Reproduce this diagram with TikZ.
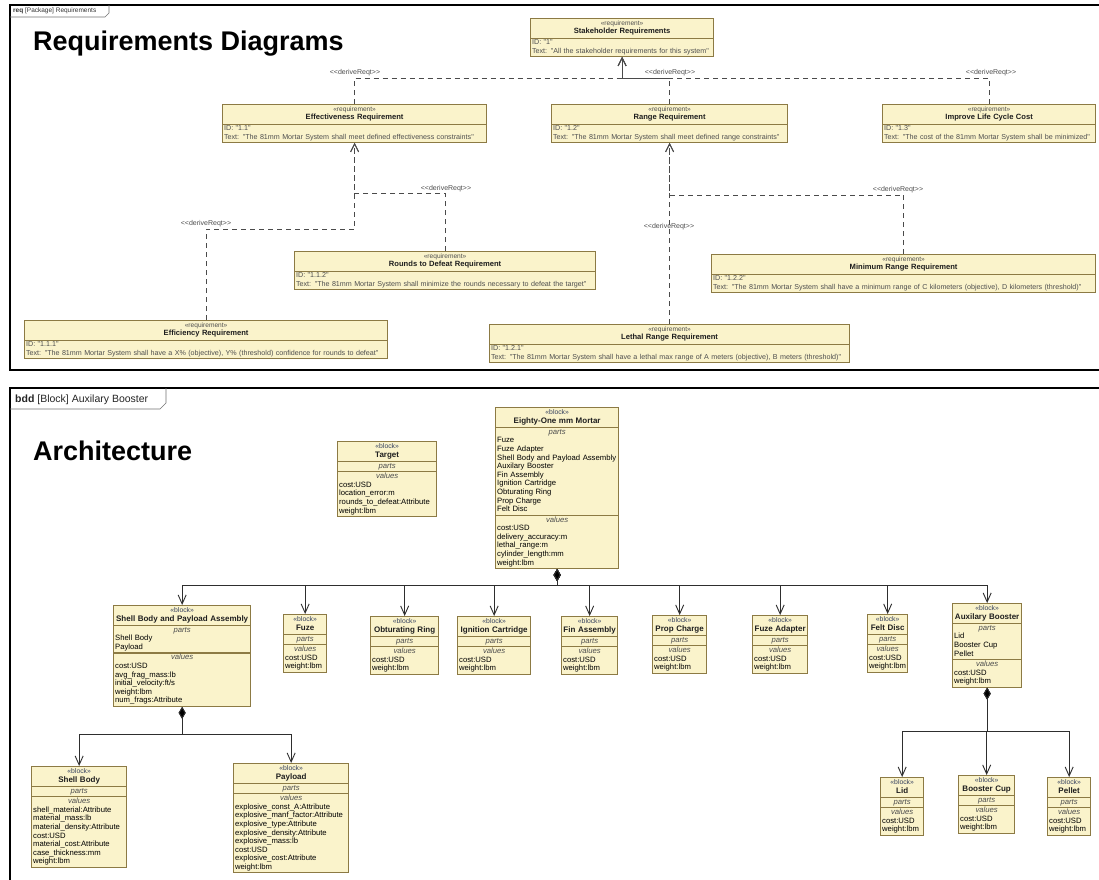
\documentclass[tikz,border=0pt]{standalone}
\usepackage{fontspec}
\setmainfont{Liberation Sans}[Ligatures=TeXOff]
\usetikzlibrary{shapes.multipart,arrows.meta}

\definecolor{boxfill}{HTML}{FAF3CB}
\definecolor{boxline}{HTML}{8C7A44}
\definecolor{inktext}{HTML}{1E1E1E}
\definecolor{softtext}{HTML}{4E4E4E}
\definecolor{stereoink}{HTML}{34405E}
\definecolor{wire}{HTML}{2E2E2E}
\definecolor{dashwire}{HTML}{4A4A4A}

% one line of a compartment
\newcommand\rl[1]{\strut\mbox{#1}\par}
% italic compartment caption
\newcommand\compart[1]{{\centering\itshape\color{softtext}\strut #1\par}}
% block and requirement headers
\newcommand\blockhead[1]{\centering{\fontsize{6.8}{8.6}\selectfont\color{stereoink}\strut«block»\par}{\fontsize{8}{8.6}\selectfont\bfseries\rule[-3.6pt]{0pt}{6pt}\mbox{#1}\par}}
\newcommand\reqhead[1]{\centering{\fontsize{6.6}{8.6}\selectfont\color{softtext}\strut«requirement»\par}{\fontsize{7.6}{8.6}\selectfont\bfseries\color{inktext}\rule[-3.6pt]{0pt}{6pt}\mbox{#1}\par}}

\tikzset{
  blockbox/.style={rectangle split, rectangle split parts=3, draw=boxline, fill=boxfill,
    line width=1.1pt, inner xsep=1.6pt, inner ysep=0.3pt, anchor=north west, align=left,
    text=inktext, font=\fontsize{7.7}{8.6}\selectfont},
  reqbox/.style={rectangle split, rectangle split parts=2, draw=boxline, fill=boxfill,
    line width=1pt, inner xsep=1.6pt, inner ysep=0.3pt, anchor=north west, align=left,
    text=softtext, font=\fontsize{7.15}{8.2}\selectfont},
  derive/.style={draw=dashwire, line width=0.9pt, dash pattern=on 5pt off 4pt,
    -{Straight Barb[length=8pt,width=8pt]}},
  comp/.style={draw=wire, line width=0.9pt,
    {Straight Barb[length=9pt,width=8pt]}-{Diamond[length=12pt,width=7pt,fill=black]}},
  dlabel/.style={font=\fontsize{7}{8}\selectfont, text=softtext, inner sep=0pt},
  frame/.style={draw=black, line width=1.8pt},
  tabline/.style={draw=black!55, line width=0.6pt},
  bigtitle/.style={anchor=base west, font=\fontsize{27}{30}\selectfont\bfseries, inner sep=0pt},
}

% name, left, top, text width, title, parts, values
\newcommand\umlblock[7]{\node[blockbox, text width=#4pt] (#1) at (#2,#3)
  {\blockhead{#5}\nodepart{two}\compart{parts}#6\nodepart{three}\compart{values}#7};}
% name, left, top, text width, title, id, text
\newcommand\reqnode[7]{\node[reqbox, text width=#4pt] (#1) at (#2,#3)
  {\reqhead{#5}\nodepart{two}\rl{ID: "#6"}\rl{Text: "#7"}};}

\begin{document}
\begin{tikzpicture}[x=1pt,y=-1pt]
\fill[white] (0,0) rectangle (1099,879);
\useasboundingbox (0,0) rectangle (1099,879);

% ---------------- requirements package ----------------
\draw[frame] (10,5) rectangle (1110,370);
\draw[tabline] (10,17) -- (105,17) -- (109,13) -- (109,5);
\node[anchor=west, inner sep=0pt, font=\fontsize{6.5}{7}\selectfont, text=black!80] (reqtab) at (13,11)
  {\textbf{req} [Package] Requirements};
\node[bigtitle] (reqtitle) at (33,50) {Requirements Diagrams};

\reqnode{stake}{530}{18}{180}{Stakeholder Requirements}{1}{All the stakeholder requirements for this system}
\reqnode{eff}{222}{104}{261}{Effectiveness Requirement}{1.1}{The 81mm Mortar System shall meet defined effectiveness constraints}
\reqnode{rng}{551}{104}{233}{Range Requirement}{1.2}{The 81mm Mortar System shall meet defined range constraints}
\reqnode{life}{882}{104}{210}{Improve Life Cycle Cost}{1.3}{The cost of the 81mm Mortar System shall be minimized}
\reqnode{rounds}{294}{251}{298}{Rounds to Defeat Requirement}{1.1.2}{The 81mm Mortar System shall minimize the rounds necessary to defeat the target}
\reqnode{minr}{711}{254}{381}{Minimum Range Requirement}{1.2.2}{The 81mm Mortar System shall have a minimum range of C kilometers (objective), D kilometers (threshold)}
\reqnode{effic}{24}{320}{360}{Efficiency Requirement}{1.1.1}{The 81mm Mortar System shall have a X\% (objective), Y\% (threshold) confidence for rounds to defeat}
\reqnode{lethal}{489}{324}{357}{Lethal Range Requirement}{1.2.1}{The 81mm Mortar System shall have a lethal max range of A meters (objective), B meters (threshold)}

\coordinate (busA) at (0,78);
\coordinate (busB) at (0,193);
\coordinate (busC) at (0,229);
\coordinate (busD) at (0,195);

\draw[derive] (eff.north) -- (eff.north |- busA) -| (stake.south);
\draw[derive] (rng.north) -- (rng.north |- busA) -| (stake.south);
\draw[derive] (life.north) -- (life.north |- busA) -| (stake.south);
\draw[derive] (rounds.north) -- (rounds.north |- busB) -| (eff.south);
\draw[derive] (effic.north) -- (effic.north |- busC) -| (eff.south);
\draw[derive] (lethal.north) -- (rng.south);
\draw[derive] (minr.north) -- (minr.north |- busD) -| (rng.south);

\node[dlabel] (dl1) at (355,73) {<<deriveReqt>>};
\node[dlabel] (dl2) at (670,73) {<<deriveReqt>>};
\node[dlabel] (dl3) at (991,73) {<<deriveReqt>>};
\node[dlabel] (dl4) at (446,189) {<<deriveReqt>>};
\node[dlabel] (dl5) at (206,224) {<<deriveReqt>>};
\node[dlabel] (dl6) at (669,227) {<<deriveReqt>>};
\node[dlabel] (dl7) at (898,190) {<<deriveReqt>>};

% ---------------- block definition diagram ----------------
\draw[frame] (10,388) rectangle (1110,890);
\draw[tabline] (10,409) -- (160,409) -- (166,403) -- (166,388);
\node[anchor=west, inner sep=0pt, font=\fontsize{10.5}{12}\selectfont, text=black!85] (bddtab) at (15,399.5)
  {\textbf{bdd} [Block] Auxilary Booster};
\node[bigtitle] (archtitle) at (33,460) {Architecture};

\umlblock{target}{337}{441}{96}{Target}{}{\rl{cost:USD}\rl{location\_error:m}\rl{rounds\_to\_defeat:Attribute}\rl{weight:lbm}}
\umlblock{mortar}{495}{407}{120}{Eighty-One mm Mortar}
  {\rl{Fuze}\rl{Fuze Adapter}\rl{Shell Body and Payload Assembly}\rl{Auxilary Booster}\rl{Fin Assembly}\rl{Ignition Cartridge}\rl{Obturating Ring}\rl{Prop Charge}\rl{Felt Disc}}
  {\rl{cost:USD}\rl{delivery\_accuracy:m}\rl{lethal\_range:m}\rl{cylinder\_length:mm}\rl{weight:lbm}}
\umlblock{sbpa}{113}{605}{134}{Shell Body and Payload Assembly}
  {\rl{Shell Body}\rl{Payload}}
  {\rl{cost:USD}\rl{avg\_frag\_mass:lb}\rl{initial\_velocity:ft/s}\rl{weight:lbm}\rl{num\_frags:Attribute}}
\umlblock{fuze}{283}{614}{40}{Fuze}{}{\rl{cost:USD}\rl{weight:lbm}}
\umlblock{obt}{370}{616}{65}{Obturating Ring}{}{\rl{cost:USD}\rl{weight:lbm}}
\umlblock{ign}{457}{616}{70}{Ignition Cartridge}{}{\rl{cost:USD}\rl{weight:lbm}}
\umlblock{fin}{561}{616}{53}{Fin Assembly}{}{\rl{cost:USD}\rl{weight:lbm}}
\umlblock{prop}{652}{615}{51}{Prop Charge}{}{\rl{cost:USD}\rl{weight:lbm}}
\umlblock{fadapt}{752}{615}{52}{Fuze Adapter}{}{\rl{cost:USD}\rl{weight:lbm}}
\umlblock{felt}{867}{614}{37}{Felt Disc}{}{\rl{cost:USD}\rl{weight:lbm}}
\umlblock{aux}{952}{603}{66}{Auxilary Booster}{\rl{Lid}\rl{Booster Cup}\rl{Pellet}}{\rl{cost:USD}\rl{weight:lbm}}
\umlblock{shell}{31}{766}{92}{Shell Body}{}
  {\rl{shell\_material:Attribute}\rl{material\_mass:lb}\rl{material\_density:Attribute}\rl{cost:USD}\rl{material\_cost:Attribute}\rl{case\_thickness:mm}\rl{weight:lbm}}
\umlblock{payload}{233}{763}{112}{Payload}{}
  {\rl{explosive\_const\_A:Attribute}\rl{explosive\_manf\_factor:Attribute}\rl{explosive\_type:Attribute}\rl{explosive\_density:Attribute}\rl{explosive\_mass:lb}\rl{cost:USD}\rl{explosive\_cost:Attribute}\rl{weight:lbm}}
\umlblock{lid}{880}{777}{40}{Lid}{}{\rl{cost:USD}\rl{weight:lbm}}
\umlblock{cup}{958}{775}{53}{Booster Cup}{}{\rl{cost:USD}\rl{weight:lbm}}
\umlblock{pellet}{1047}{777}{40}{Pellet}{}{\rl{cost:USD}\rl{weight:lbm}}

\coordinate (mbus) at (0,585);
\coordinate (sbus) at (0,734);
\coordinate (abus) at (0,731);

\foreach \child in {sbpa,fuze,obt,ign,fin,prop,fadapt,felt,aux}
  \draw[comp] (\child.north) -- (\child.north |- mbus) -| (mortar.south);
\foreach \child in {shell,payload}
  \draw[comp] (\child.north) -- (\child.north |- sbus) -| (sbpa.south);
\foreach \child in {lid,cup,pellet}
  \draw[comp] (\child.north) -- (\child.north |- abus) -| (aux.south);
\end{tikzpicture}
\end{document}
